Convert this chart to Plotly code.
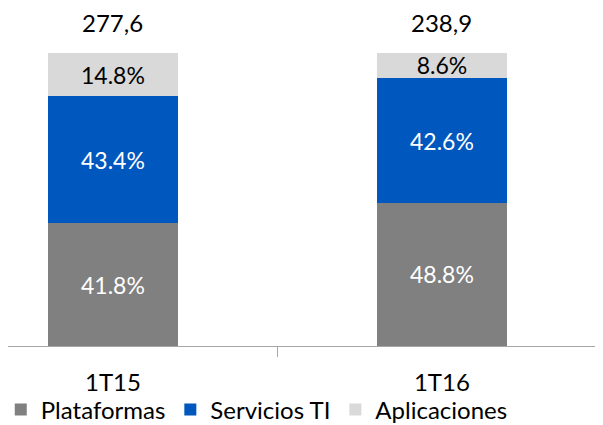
import plotly.graph_objects as go

periodos = ["1T15", "1T16"]
totales = [277.6, 238.9]
plataformas = [41.8, 48.8]
servicios_ti = [43.4, 42.6]
aplicaciones = [14.8, 8.6]

FONT = "Lato"
xpos = list(range(len(periodos)))

fig = go.Figure()

series = [
    ("Plataformas", plataformas, "#808080", "white"),
    ("Servicios TI", servicios_ti, "#0057BE", "white"),
    ("Aplicaciones", aplicaciones, "#D9D9D9", "black"),
]
for name, vals, color, tcolor in series:
    fig.add_trace(go.Bar(
        x=xpos, y=vals, name=name, width=0.395,
        marker=dict(color=color, line=dict(width=0)),
        texttemplate="%{y:.1f}%", textposition="inside",
        insidetextanchor="middle", textangle=0, constraintext="none",
        textfont=dict(color=tcolor, size=23, family=FONT),
        hoverinfo="skip",
    ))

# totals above each bar
for x, t in zip(xpos, totales):
    fig.add_annotation(
        x=x, y=100, text=f"{t:.1f}".replace(".", ","), showarrow=False,
        yanchor="bottom", yshift=14,
        font=dict(size=24, color="black", family=FONT),
    )

fig.update_layout(
    barmode="stack",
    width=603, height=425,
    margin=dict(l=0, r=0, t=10, b=87, autoexpand=False),
    plot_bgcolor="white", paper_bgcolor="white",
    font=dict(family=FONT, color="black"),
    showlegend=True,
    legend=dict(
        orientation="h", x=-0.012, xanchor="left", y=-0.195, yanchor="middle",
        bgcolor="rgba(0,0,0,0)",
        font=dict(size=24, family=FONT, color="black"),
        itemwidth=30, traceorder="normal",
    ),
)
fig.update_xaxes(
    range=[-0.319, 1.514], automargin=False,
    tickvals=xpos, ticktext=periodos, ticks="",
    tickfont=dict(size=24, family=FONT, color="black"),
    ticklabelstandoff=15,
    showline=True, linecolor="#A6A6A6", linewidth=1.3,
    showgrid=False, zeroline=False,
    minor=dict(tickvals=[0.5], ticks="outside", ticklen=10,
               tickcolor="#A6A6A6", tickwidth=1.3, showgrid=False),
)
fig.update_yaxes(range=[0, 111.9], visible=False, showgrid=False)

fig.write_html("out.html")
